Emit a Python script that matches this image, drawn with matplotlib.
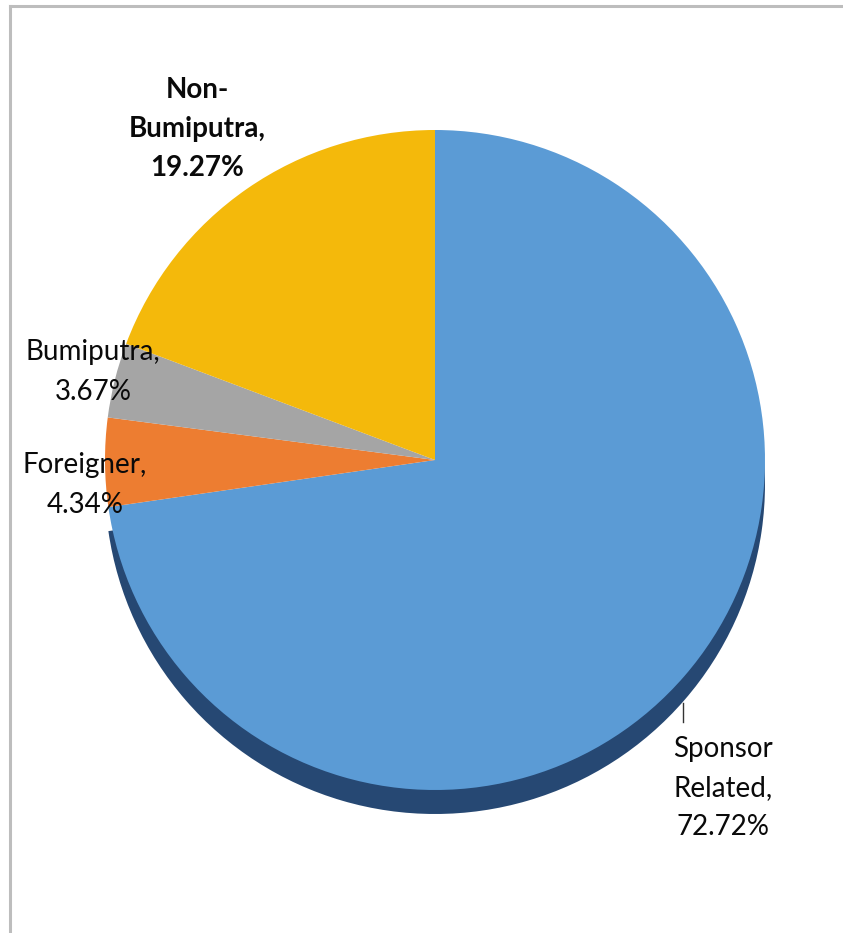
import matplotlib.pyplot as plt
from matplotlib.lines import Line2D

# ownership breakdown
labels = ["Sponsor\nRelated,", "Foreigner,", "Bumiputra,", "Non-\nBumiputra,"]
shares = [72.72, 4.34, 3.67, 19.27]
colors = ["#5B9BD5", "#ED7D31", "#A5A5A5", "#F4B90B"]
side_color = "#264873"

W, H = 843, 933
fig = plt.figure(figsize=(W / 100, H / 100), dpi=100)
ax = fig.add_axes([0, 0, 1, 1])

cx, cy, r = 435, H - 460, 330
depth = 24

# dark side of the big slice, peeking out below the top face
side, _ = ax.pie([shares[0], sum(shares[1:])], colors=[side_color, "none"],
                 startangle=90, counterclock=False, radius=r,
                 center=(cx, cy - depth), frame=True)
for w in side:
    w.set_zorder(1)

wedges, _ = ax.pie(shares, colors=colors, startangle=90, counterclock=False,
                   radius=r, center=(cx, cy), frame=True)
for w in wedges:
    w.set_zorder(2)

ax.set_xlim(0, W)
ax.set_ylim(0, H)
ax.set_aspect("equal")
ax.axis("off")

font = dict(family=["Lato", "DejaVu Sans"], fontsize=20, color="#0A0A0A",
            ha="center", va="center", linespacing=1.62, zorder=5)
label_pos = [(723, 788), (85, 485), (93, 372), (197, 129)]
for (x, y), lab, val in zip(label_pos, labels, shares):
    weight = "bold" if lab.startswith("Non") else "normal"
    ax.text(x, H - y, f"{lab}\n{val:.2f}%", fontweight=weight, **font)

# short leader line for the big slice label
ax.plot([683, 683], [H - 703, H - 722], color="#333333", lw=1, zorder=5)

# chart area border (left and top edges)
fig.add_artist(Line2D([10 / W, 10 / W], [0, 1 - 6 / H], color="#BDBDBD", lw=2.2))
fig.add_artist(Line2D([10 / W, 1], [1 - 6 / H, 1 - 6 / H], color="#BDBDBD", lw=2.2))

fig.savefig("out.png", dpi=100)
